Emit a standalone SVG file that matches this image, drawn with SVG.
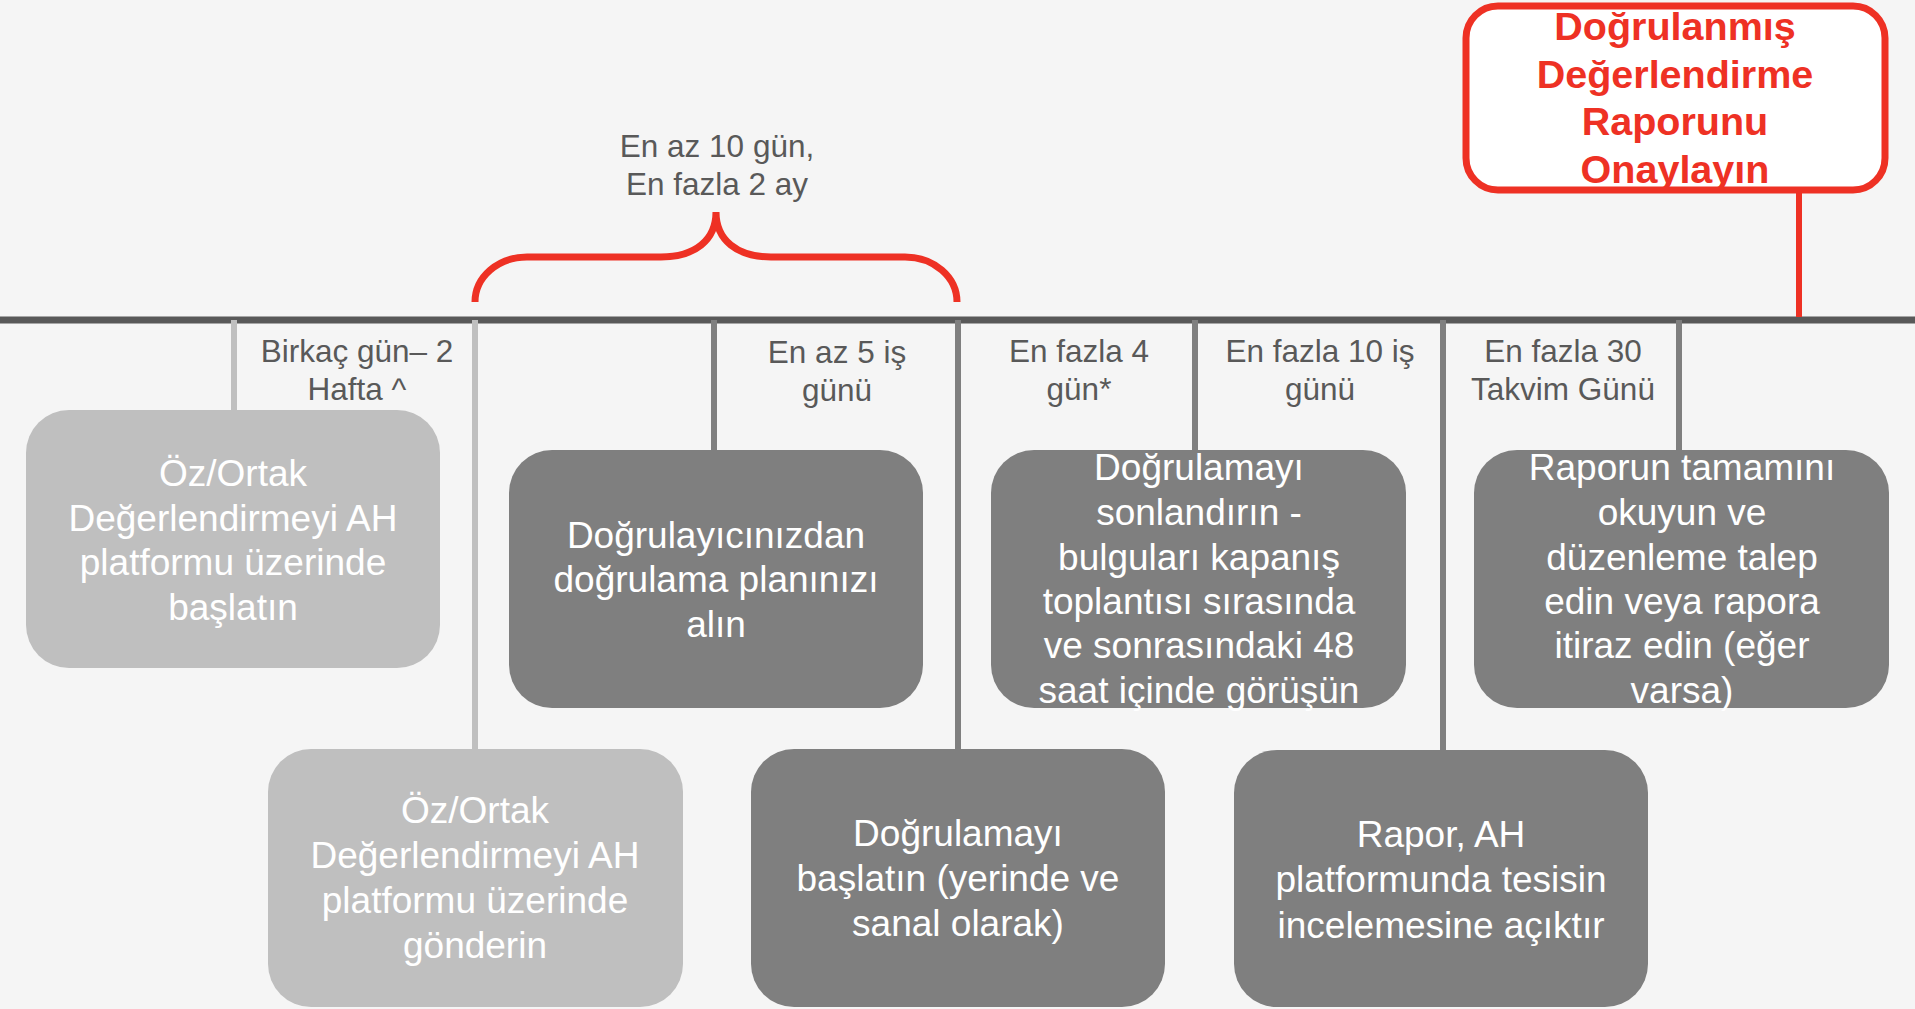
<svg xmlns="http://www.w3.org/2000/svg" width="1915" height="1009" viewBox="0 0 1915 1009">
<defs>
<style>
.bg{fill:#F5F5F5}
.light{fill:#BFBFBF}
.dark{fill:#7F7F7F}
.lt{stroke:#BFBFBF;stroke-width:6;fill:none}
.dk{stroke:#7F7F7F;stroke-width:6;fill:none}
.red{stroke:#EE3124;fill:none}
.bt{font-family:"Liberation Sans",Arial,sans-serif;font-size:37px;fill:#FFFFFF;text-anchor:middle}
.lb{font-family:"Liberation Sans",Arial,sans-serif;font-size:31.5px;fill:#595959;text-anchor:middle}
.rt{font-family:"Liberation Sans",Arial,sans-serif;font-size:39.5px;font-weight:bold;fill:#EE3124;text-anchor:middle}
</style>
<clipPath id="redclip"><rect x="1466" y="6" width="419" height="184" rx="32"/></clipPath>
</defs>
<rect class="bg" x="0" y="0" width="1915" height="1009"/>

<g id="connectors">
<line x1="0" y1="320" x2="1915" y2="320" stroke="#595959" stroke-width="7"/>
<line class="lt" x1="234" y1="320" x2="234" y2="411"/>
<line class="lt" x1="475" y1="320" x2="475" y2="750"/>
<line class="dk" x1="714" y1="320" x2="714" y2="451"/>
<line class="dk" x1="958" y1="320" x2="958" y2="750"/>
<line class="dk" x1="1195" y1="320" x2="1195" y2="451"/>
<line class="dk" x1="1443" y1="320" x2="1443" y2="751"/>
<line class="dk" x1="1679" y1="320" x2="1679" y2="451"/>
<line class="red" x1="1799" y1="190" x2="1799" y2="317" stroke-width="6"/>
<path class="red" stroke-width="7" d="M475 302 C475 277 498 257 527 257 L661 257 C695 257 716 240 716 212 C716 240 737 257 771 257 L905 257 C934 257 957 277 957 302"/>
</g>

<g id="label-brace">
<text class="lb" x="717" y="157">En az 10 gün,</text>
<text class="lb" x="717" y="195">En fazla 2 ay</text>
</g>
<g id="label-1">
<text class="lb" x="357" y="362">Birkaç gün– 2</text>
<text class="lb" x="357" y="400">Hafta ^</text>
</g>
<g id="label-2">
<text class="lb" x="837" y="363">En az 5 iş</text>
<text class="lb" x="837" y="401">günü</text>
</g>
<g id="label-3">
<text class="lb" x="1079" y="362">En fazla 4</text>
<text class="lb" x="1079" y="400">gün*</text>
</g>
<g id="label-4">
<text class="lb" x="1320" y="362">En fazla 10 iş</text>
<text class="lb" x="1320" y="400">günü</text>
</g>
<g id="label-5">
<text class="lb" x="1563" y="362">En fazla 30</text>
<text class="lb" x="1563" y="400">Takvim Günü</text>
</g>

<g id="node-approve">
<rect x="1466" y="6" width="419" height="184" rx="32" fill="#FFFFFF"/>
<g clip-path="url(#redclip)">
<text class="rt" x="1675" y="40">Doğrulanmış</text>
<text class="rt" x="1675" y="88">Değerlendirme</text>
<text class="rt" x="1675" y="135">Raporunu</text>
<text class="rt" x="1675" y="183">Onaylayın</text>
</g>
<rect class="red" x="1466" y="6" width="419" height="184" rx="32" stroke-width="7"/>
</g>

<g id="node-1">
<rect class="light" x="26" y="410" width="414" height="258" rx="43"/>
<text class="bt" x="233" y="486">Öz/Ortak</text>
<text class="bt" x="233" y="531">Değerlendirmeyi AH</text>
<text class="bt" x="233" y="575">platformu üzerinde</text>
<text class="bt" x="233" y="620">başlatın</text>
</g>
<g id="node-2">
<rect class="light" x="268" y="749" width="415" height="258" rx="43"/>
<text class="bt" x="475" y="823">Öz/Ortak</text>
<text class="bt" x="475" y="868">Değerlendirmeyi AH</text>
<text class="bt" x="475" y="913">platformu üzerinde</text>
<text class="bt" x="475" y="958">gönderin</text>
</g>
<g id="node-3">
<rect class="dark" x="509" y="450" width="414" height="258" rx="43"/>
<text class="bt" x="716" y="548">Doğrulayıcınızdan</text>
<text class="bt" x="716" y="592">doğrulama planınızı</text>
<text class="bt" x="716" y="637">alın</text>
</g>
<g id="node-4">
<rect class="dark" x="751" y="749" width="414" height="258" rx="43"/>
<text class="bt" x="958" y="846">Doğrulamayı</text>
<text class="bt" x="958" y="891">başlatın (yerinde ve</text>
<text class="bt" x="958" y="936">sanal olarak)</text>
</g>
<g id="node-5">
<rect class="dark" x="991" y="450" width="415" height="258" rx="43"/>
<text class="bt" x="1199" y="480">Doğrulamayı</text>
<text class="bt" x="1199" y="525">sonlandırın -</text>
<text class="bt" x="1199" y="570">bulguları kapanış</text>
<text class="bt" x="1199" y="614">toplantısı sırasında</text>
<text class="bt" x="1199" y="658">ve sonrasındaki 48</text>
<text class="bt" x="1199" y="703">saat içinde görüşün</text>
</g>
<g id="node-6">
<rect class="dark" x="1234" y="750" width="414" height="257" rx="43"/>
<text class="bt" x="1441" y="847">Rapor, AH</text>
<text class="bt" x="1441" y="892">platformunda tesisin</text>
<text class="bt" x="1441" y="938">incelemesine açıktır</text>
</g>
<g id="node-7">
<rect class="dark" x="1474" y="450" width="415" height="258" rx="43"/>
<text class="bt" x="1682" y="480">Raporun tamamını</text>
<text class="bt" x="1682" y="525">okuyun ve</text>
<text class="bt" x="1682" y="570">düzenleme talep</text>
<text class="bt" x="1682" y="614">edin veya rapora</text>
<text class="bt" x="1682" y="658">itiraz edin (eğer</text>
<text class="bt" x="1682" y="703">varsa)</text>
</g>
</svg>
